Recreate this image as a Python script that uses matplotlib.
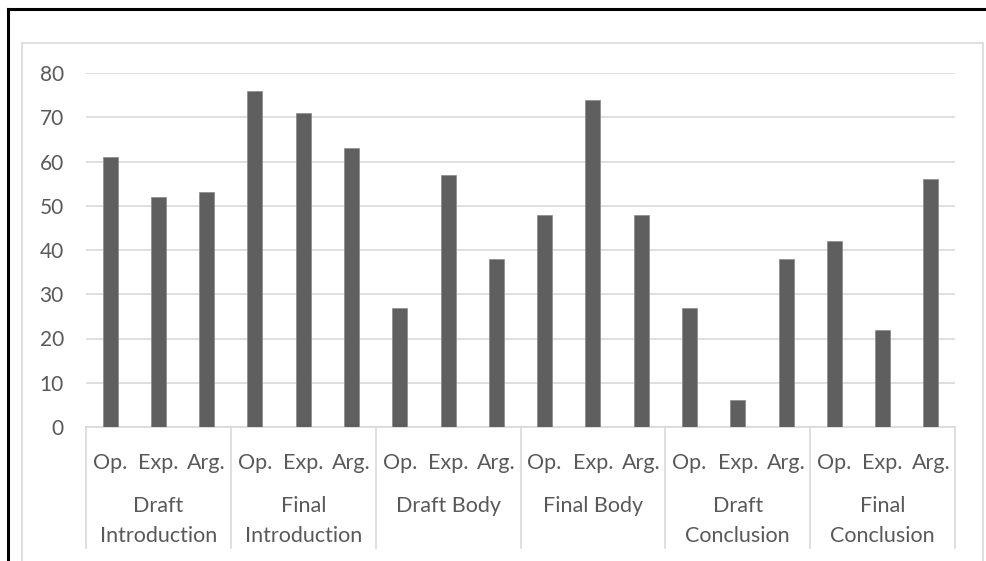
import matplotlib.pyplot as plt
from matplotlib.lines import Line2D
from matplotlib.patches import Rectangle
from matplotlib.transforms import blended_transform_factory

plt.rcParams['font.family'] = ['Lato', 'DejaVu Sans']

sections = ["Draft\nIntroduction", "Final\nIntroduction", "Draft Body",
            "Final Body", "Draft\nConclusion", "Final\nConclusion"]
kinds = ["Op.", "Exp.", "Arg."]
scores = [61, 52, 53,
          76, 71, 63,
          27, 57, 38,
          48, 74, 48,
          27, 6, 38,
          42, 22, 56]
yticks = [0, 10, 20, 30, 40, 50, 60, 70, 80]

W, H = 986, 561
fig = plt.figure(figsize=(W / 100, H / 100), dpi=100)

# outer frame: black on top and left, light grey chart box inside
fig.add_artist(Line2D([8 / W, 8 / W], [0, 1 - 9 / H], color="black", lw=2.2))
fig.add_artist(Line2D([8 / W, 1], [1 - 9 / H, 1 - 9 / H], color="black", lw=2.2))
fig.add_artist(Rectangle((22 / W, -0.1), (983 - 22) / W, 1.1 - 43 / H,
                         transform=fig.transFigure, fill=False,
                         edgecolor="#d9d9d9", lw=1.2))

ax = fig.add_axes([86 / W, (H - 427) / H, (955 - 86) / W, (427 - 73) / H])

x = list(range(len(scores)))
ax.bar(x, scores, width=0.31, color="#5f5f5f", edgecolor="#8a8a8a",
       linewidth=0.5, zorder=3)

ax.set_xlim(-0.5, len(scores) - 0.5)
ax.set_ylim(0, 80)
ax.set_yticks(yticks)
ax.yaxis.grid(True, color="#d9d9d9", lw=1.2, zorder=0)
ax.tick_params(axis="y", length=0, pad=16, labelsize=15, labelcolor="#595959")
ax.tick_params(axis="x", length=0, pad=19, labelsize=15.5, labelcolor="#595959")
ax.set_xticks(x)
ax.set_xticklabels(kinds * len(sections))

for s in ["top", "right", "left"]:
    ax.spines[s].set_visible(False)
ax.spines["bottom"].set_color("#d9d9d9")
ax.spines["bottom"].set_linewidth(1.2)

# two-level category axis: separators and group names
trans = blended_transform_factory(ax.transData, ax.transAxes)
for i in range(len(sections) + 1):
    xs = i * 3 - 0.5
    ax.add_line(Line2D([xs, xs], [0, -0.342], transform=trans,
                       color="#d9d9d9", lw=1.2, clip_on=False))
for i, name in enumerate(sections):
    ax.text(i * 3 + 1, -0.194, name, transform=trans, ha="center", va="top",
            fontsize=15.5, color="#595959", linespacing=1.62)

fig.savefig("out.png", dpi=100)
